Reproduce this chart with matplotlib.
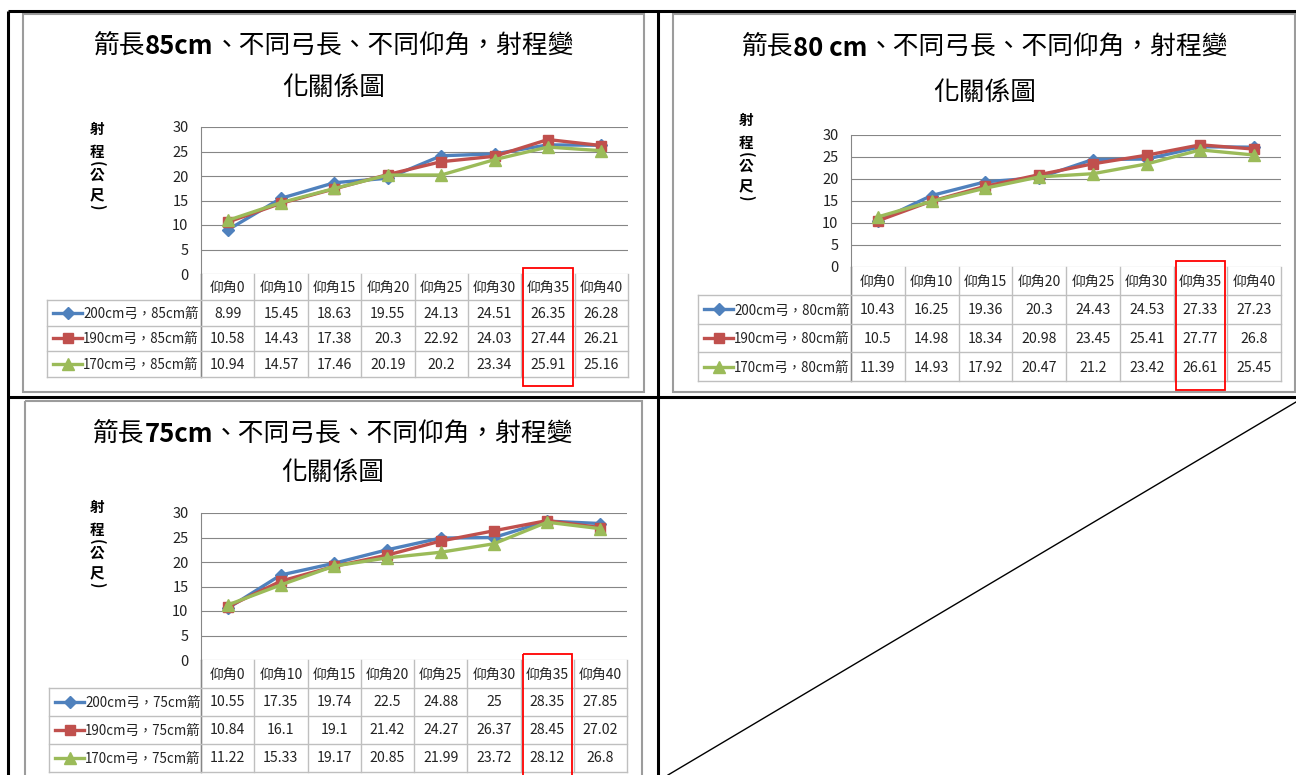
import matplotlib
matplotlib.use("Agg")
import matplotlib.pyplot as plt
from matplotlib.patches import Rectangle
from matplotlib.lines import Line2D

plt.rcParams['font.family'] = ['Noto Sans CJK TC', 'DejaVu Sans']

# categories (elevation angle) and bows
angles = ["仰角0", "仰角10", "仰角15", "仰角20", "仰角25", "仰角30", "仰角35", "仰角40"]
bows = ["200cm弓", "190cm弓", "170cm弓"]

# range in metres, arrow 85cm
range_85_200 = [8.99, 15.45, 18.63, 19.55, 24.13, 24.51, 26.35, 26.28]
range_85_190 = [10.58, 14.43, 17.38, 20.3, 22.92, 24.03, 27.44, 26.21]
range_85_170 = [10.94, 14.57, 17.46, 20.19, 20.2, 23.34, 25.91, 25.16]

# arrow 80cm
range_80_200 = [10.43, 16.25, 19.36, 20.3, 24.43, 24.53, 27.33, 27.23]
range_80_190 = [10.5, 14.98, 18.34, 20.98, 23.45, 25.41, 27.77, 26.8]
range_80_170 = [11.39, 14.93, 17.92, 20.47, 21.2, 23.42, 26.61, 25.45]

# arrow 75cm
range_75_200 = [10.55, 17.35, 19.74, 22.5, 24.88, 25, 28.35, 27.85]
range_75_190 = [10.84, 16.1, 19.1, 21.42, 24.27, 26.37, 28.45, 27.02]
range_75_170 = [11.22, 15.33, 19.17, 20.85, 21.99, 23.72, 28.12, 26.8]

colors = ["#4F81BD", "#C0504D", "#9BBB59"]
markers = ["D", "s", "^"]
msizes = [6, 7.5, 8]

W, H = 1296, 775
fig = plt.figure(figsize=(W / 100, H / 100), dpi=100)
fig.patch.set_facecolor("white")

base = fig.add_axes([0, 0, 1, 1])
base.set_xlim(0, W)
base.set_ylim(H, 0)
base.axis("off")
base.set_zorder(0)

top = fig.add_axes([0, 0, 1, 1])
top.set_xlim(0, W)
top.set_ylim(H, 0)
top.axis("off")
top.patch.set_alpha(0)
top.set_zorder(10)

renderer = fig.canvas.get_renderer()


def text_width(s, **kw):
    t = base.text(0, 0, s, **kw)
    w = t.get_window_extent(renderer).width
    t.remove()
    return w


def draw_title(cx, y, parts, size):
    widths = [text_width(s, fontsize=size, fontweight=wt) for s, wt in parts]
    x = cx - sum(widths) / 2
    for (s, wt), w in zip(parts, widths):
        base.text(x, y, s, fontsize=size, fontweight=wt, ha="left", va="center")
        x += w


def draw_chart(lay, arrow_title, arrow_legend, series):
    fx0, fy0, fx1, fy1 = lay["frame"]
    base.add_patch(Rectangle((fx0, fy0), fx1 - fx0, fy1 - fy0, fill=False,
                             ec="#9C9C9C", lw=1.5))

    # title on two lines
    draw_title(lay["cx"], lay["ty"][0],
               [("箭長", "normal"), (arrow_title, "bold"),
                ("、不同弓長、不同仰角，射程變", "normal")], 18.5)
    base.text(lay["cx"], lay["ty"][1], "化關係圖", fontsize=18.5, ha="center", va="center")

    # vertical axis title
    lx, ly = lay["ylab"]
    for ch, dy, rot in [("射", 0, 0), ("程", 23, 0), ("(", 35, -90),
                        ("公", 46, 0), ("尺", 66, 0), (")", 78, -90)]:
        base.text(lx, ly + dy, ch, fontsize=10.5, fontweight="bold",
                  ha="center", va="center", rotation=rot)

    px0, py0, px1, py1 = lay["plot"]
    ax = fig.add_axes([px0 / W, 1 - py1 / H, (px1 - px0) / W, (py1 - py0) / H])
    ax.set_zorder(5)
    ax.patch.set_alpha(0)
    ax.set_xlim(-0.5, len(angles) - 0.5)
    ax.set_ylim(0, 30)
    ax.set_yticks(range(0, 31, 5))
    ax.set_xticks([])
    ax.yaxis.grid(True, color="#868686", lw=0.8)
    ax.set_axisbelow(True)
    for s in ["top", "right", "bottom"]:
        ax.spines[s].set_visible(False)
    ax.spines["left"].set_color("#868686")
    ax.spines["left"].set_linewidth(0.8)
    ax.tick_params(axis="y", length=0, pad=9, labelsize=10.5, labelcolor="#222222")
    for vals, c, m, ms in zip(series, colors, markers, msizes):
        ax.plot(range(len(angles)), vals, color=c, lw=2.4, marker=m, ms=ms,
                mec=c, mfc=c, clip_on=False)

    # data table under the plot
    cw = (px1 - px0) / len(angles)
    hh, rh, lx0 = lay["header"], lay["row"], lay["legx"]
    grid = "#BFBFBF"
    rows_top = py1 + hh
    tab_bot = rows_top + 3 * rh
    for i, a in enumerate(angles):
        base.text(px0 + (i + 0.5) * cw, py1 + hh / 2 + 1, a, fontsize=10,
                  ha="center", va="center", color="#222222")
    for k in range(len(angles) + 1):
        base.plot([px0 + k * cw] * 2, [py1, tab_bot], color=grid, lw=1)
    base.plot([px0, px0], [py1, tab_bot], color="#868686", lw=1)
    base.plot([lx0, lx0], [rows_top, tab_bot], color=grid, lw=1)
    for r in range(4):
        base.plot([lx0, px1], [rows_top + r * rh] * 2, color=grid, lw=1)
    for r, (vals, c, m, ms) in enumerate(zip(series, colors, markers, msizes)):
        yc = rows_top + (r + 0.5) * rh
        base.add_line(Line2D([lx0 + 6, lx0 + 35], [yc, yc], color=c, lw=2.4))
        base.plot([lx0 + 20.5], [yc], marker=m, ms=ms, color=c)
        base.text(lx0 + 36, yc + 1, bows[r] + "，" + arrow_legend + "箭", fontsize=9.6,
                  ha="left", va="center", color="#222222")
        for i, v in enumerate(vals):
            base.text(px0 + (i + 0.5) * cw, yc + 1, f"{v:g}", fontsize=10.2,
                      ha="center", va="center", color="#222222")

    # highlight on the 35 degree column
    rx0 = px0 + 6 * cw + 2
    rx1 = px0 + 7 * cw - 2
    ry1 = lay.get("redbot", tab_bot + 9)
    top.add_patch(Rectangle((rx0, py1 - 6), rx1 - rx0, ry1 - (py1 - 6), fill=False,
                            ec="#FF0000", lw=1.3))


layouts = [
    dict(frame=(23, 14, 644, 392), cx=334, ty=(47, 88), ylab=(97, 129),
         plot=(201, 127, 628, 274), header=26, row=25.5, legx=47),
    dict(frame=(673, 14, 1295, 392), cx=985, ty=(48, 93), ylab=(746, 120),
         plot=(851, 135, 1281, 267), header=28, row=28.7, legx=698),
    dict(frame=(25, 401, 642, 800), cx=333, ty=(435, 473), ylab=(97, 507),
         plot=(201, 513, 627, 660), header=27.5, row=28, legx=49, redbot=790),
]

draw_chart(layouts[0], "85cm", "85cm", [range_85_200, range_85_190, range_85_170])
draw_chart(layouts[1], "80 cm", "80cm", [range_80_200, range_80_190, range_80_170])
draw_chart(layouts[2], "75cm", "75cm", [range_75_200, range_75_190, range_75_170])

# outer document table
black = dict(color="black", lw=2.2, solid_capstyle="butt")
top.plot([8, W], [11, 11], **black)
top.plot([8, 8], [11, H], **black)
top.plot([658, 658], [11, H], **black)
top.plot([8, W], [397, 397], **black)
top.plot([668, W], [H, 402], color="black", lw=1)

fig.savefig("out.png", dpi=100, facecolor="white")
